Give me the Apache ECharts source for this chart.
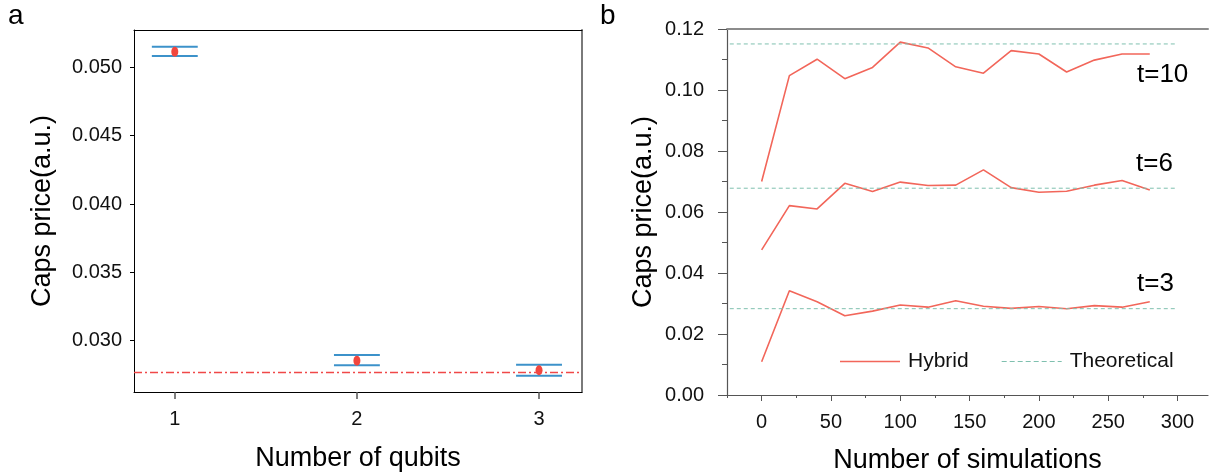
<!DOCTYPE html>
<html>
<head>
<meta charset="utf-8">
<script src="https://cdn.jsdelivr.net/npm/echarts@6/dist/echarts.min.js"></script>
<style>
html, body { margin: 0; padding: 0; background: #fff; }
#main { width: 1209px; height: 472px; }
</style>
</head>
<body>
<div id="main"></div>
<script>
// panel a: caps price vs number of qubits
const qubits = [1, 2, 3];
const qubitMean = [0.05115, 0.02853, 0.02783];
const qubitLow = [0.05084, 0.02819, 0.02743];
const qubitHigh = [0.05152, 0.02895, 0.02823];
const qubitTheory = 0.02765;
const qubitTicks = [0.030, 0.035, 0.040, 0.045, 0.050];

// panel b: caps price vs number of simulations
const simulations = [0, 20, 40, 60, 80, 100, 120, 140, 160, 180, 200, 220, 240, 260, 280];
const hybridT10 = [0.0700, 0.1047, 0.1101, 0.1037, 0.1074, 0.1157, 0.1138, 0.1076, 0.1055, 0.1129, 0.1118, 0.1059, 0.1098, 0.1118, 0.1118];
const hybridT6 = [0.0476, 0.0621, 0.0610, 0.0694, 0.0667, 0.0698, 0.0687, 0.0688, 0.0738, 0.0680, 0.0665, 0.0668, 0.0688, 0.0703, 0.0672];
const hybridT3 = [0.0109, 0.0342, 0.0306, 0.0260, 0.0275, 0.0295, 0.0288, 0.0309, 0.0291, 0.0284, 0.0290, 0.0283, 0.0293, 0.0288, 0.0306];
const theoryT10 = 0.1151;
const theoryT6 = 0.0678;
const theoryT3 = 0.0283;
const theoryRange = [-23, 300];
const simLabels = [0, 50, 100, 150, 200, 250, 300];
const simMinorTicks = [-25, 25, 75, 125, 175, 225, 275];

const FONT = 'Liberation Sans, Arial, sans-serif';
const hybridColor = '#F2665A';
const theoryColor = '#7FC0AF';
const dashIcon = 'path://M0,0h5v1h-5z M8,0h5v1h-5z M16,0h5v1h-5z M24,0h5v1h-5z M32,0h5v1h-5z M40,0h5v1h-5z M48,0h5v1h-5z M56,0h4v1h-4z';

let myChart = echarts.init(document.getElementById('main'));

function hybrid(vals) {
    return {
        name: 'Hybrid', type: 'line', xAxisIndex: 2, yAxisIndex: 2,
        showSymbol: false, symbol: 'none',
        lineStyle: { color: hybridColor, width: 1.6 },
        itemStyle: { color: hybridColor },
        data: simulations.map((s, i) => [s, vals[i]])
    };
}
function theory(v) {
    return {
        name: 'Theoretical', type: 'line', xAxisIndex: 2, yAxisIndex: 2,
        showSymbol: false, symbol: 'none',
        lineStyle: { color: theoryColor, width: 1, type: [4, 3] },
        itemStyle: { color: theoryColor },
        data: theoryRange.map(x => [x, v])
    };
}

myChart.setOption({
    animation: false,
    textStyle: { fontFamily: FONT },
    grid: [
        { left: 134, top: 30, width: 448, height: 362, outerBoundsMode: 'none', containLabel: false },
        { left: 727, top: 29, right: 1, bottom: 77, outerBoundsMode: 'none', containLabel: false }
    ],
    xAxis: [
        {
            gridIndex: 0, type: 'value', min: 0.776, max: 3.236,
            splitLine: { show: false },
            axisLine: { onZero: false, lineStyle: { color: '#000', width: 1 } },
            axisTick: { customValues: qubits, length: 7, lineStyle: { color: '#555', width: 1.5 } },
            axisLabel: { customValues: qubits, fontSize: 20, color: '#111', margin: 17, fontFamily: FONT },
            name: 'Number of qubits', nameLocation: 'middle', nameGap: 53,
            nameTextStyle: { fontSize: 27, color: '#000', fontFamily: FONT }
        },
        {
            gridIndex: 0, type: 'value', position: 'top', min: 0, max: 1,
            splitLine: { show: false }, axisTick: { show: false }, axisLabel: { show: false },
            axisLine: { onZero: false, lineStyle: { color: '#000', width: 1 } }
        },
        {
            gridIndex: 1, type: 'value', min: -25, max: 322,
            splitLine: { show: false },
            axisLine: { onZero: false, lineStyle: { color: '#555', width: 1.2 } },
            axisTick: { customValues: simLabels, length: 6, lineStyle: { color: '#555' } },
            axisLabel: { customValues: simLabels, fontSize: 20, color: '#111', margin: 17, fontFamily: FONT },
            name: 'Number of simulations', nameLocation: 'middle', nameGap: 52,
            nameTextStyle: { fontSize: 27, color: '#000', fontFamily: FONT }
        },
        {
            gridIndex: 1, type: 'value', position: 'top', min: 0, max: 1,
            splitLine: { show: false }, axisTick: { show: false }, axisLabel: { show: false },
            axisLine: { onZero: false, lineStyle: { color: '#8c8c8c', width: 2 } }
        },
        {
            gridIndex: 1, type: 'value', position: 'bottom', min: -25, max: 322,
            splitLine: { show: false }, axisLine: { show: false, onZero: false }, axisLabel: { show: false },
            axisTick: { customValues: simMinorTicks, length: 3, lineStyle: { color: '#555' } }
        }
    ],
    yAxis: [
        {
            gridIndex: 0, type: 'value', min: 0.02624, max: 0.05274,
            splitLine: { show: false },
            axisLine: { show: true, onZero: false, lineStyle: { color: '#000', width: 1 } },
            axisTick: { show: true, customValues: qubitTicks, length: 4, lineStyle: { color: '#000' } },
            axisLabel: {
                customValues: qubitTicks, fontSize: 20, color: '#111', margin: 12, fontFamily: FONT,
                formatter: v => v.toFixed(3)
            },
            name: 'Caps price(a.u.)', nameLocation: 'middle', nameGap: 78,
            nameTextStyle: { fontSize: 27, color: '#000', fontFamily: FONT }
        },
        {
            gridIndex: 0, type: 'value', position: 'right', min: 0, max: 1,
            splitLine: { show: false }, axisTick: { show: false }, axisLabel: { show: false },
            axisLine: { show: true, onZero: false, lineStyle: { color: '#7a7a7a', width: 2 } }
        },
        {
            gridIndex: 1, type: 'value', min: 0, max: 0.12, interval: 0.02,
            splitLine: { show: false },
            axisLine: { show: true, onZero: false, lineStyle: { color: '#555', width: 1.2 } },
            axisTick: { show: true, length: 9, lineStyle: { color: '#555' } },
            minorTick: { show: true, splitNumber: 2, length: 5, lineStyle: { color: '#555' } },
            axisLabel: { fontSize: 20, color: '#111', margin: 23, fontFamily: FONT, formatter: v => v.toFixed(2) },
            name: 'Caps price(a.u.)', nameLocation: 'middle', nameGap: 70,
            nameTextStyle: { fontSize: 27, color: '#000', fontFamily: FONT }
        }
    ],
    legend: {
        data: [
            { name: 'Hybrid', icon: 'rect' },
            { name: 'Theoretical', icon: dashIcon }
        ],
        left: 835, top: 346,
        itemWidth: 60, itemHeight: 1.5, itemGap: 33,
        textStyle: { fontSize: 21, color: '#111', fontFamily: FONT, padding: [0, 0, 0, 3] }
    },
    graphic: [
        { type: 'text', left: 8, top: 2, style: { text: 'a', fontSize: 28, fontFamily: FONT, fill: '#000' } },
        { type: 'text', left: 600, top: 2, style: { text: 'b', fontSize: 28, fontFamily: FONT, fill: '#000' } },
        { type: 'text', left: 1137, top: 62, style: { text: 't=10', fontSize: 26, fontFamily: FONT, fill: '#000' } },
        { type: 'text', left: 1136, top: 151, style: { text: 't=6', fontSize: 26, fontFamily: FONT, fill: '#000' } },
        { type: 'text', left: 1137, top: 271, style: { text: 't=3', fontSize: 26, fontFamily: FONT, fill: '#000' } }
    ],
    series: [
        {
            type: 'custom', xAxisIndex: 0, yAxisIndex: 0,
            data: qubits.map((q, i) => [q, qubitLow[i], qubitHigh[i]]),
            renderItem: function (params, api) {
                const x = api.value(0);
                const lo = api.coord([x, api.value(1)]);
                const hi = api.coord([x, api.value(2)]);
                const half = api.size([0.126, 0])[0];
                const style = { stroke: '#3C92CA', lineWidth: 2 };
                return {
                    type: 'group',
                    children: [
                        { type: 'line', shape: { x1: lo[0], y1: lo[1], x2: hi[0], y2: hi[1] }, style: { stroke: '#3C92CA', lineWidth: 1 } },
                        { type: 'line', shape: { x1: lo[0] - half, y1: lo[1], x2: lo[0] + half, y2: lo[1] }, style: style },
                        { type: 'line', shape: { x1: hi[0] - half, y1: hi[1], x2: hi[0] + half, y2: hi[1] }, style: style }
                    ]
                };
            }
        },
        {
            type: 'scatter', xAxisIndex: 0, yAxisIndex: 0,
            symbol: 'circle', symbolSize: [7, 10],
            itemStyle: { color: '#F2463D', opacity: 1 },
            data: qubits.map((q, i) => [q, qubitMean[i]]),
            markLine: {
                symbol: 'none', silent: true, precision: 6, label: { show: false },
                lineStyle: { color: '#F04848', width: 1.3, type: [8, 3, 2, 3] },
                data: [{ yAxis: qubitTheory }]
            }
        },
        hybrid(hybridT10),
        hybrid(hybridT6),
        hybrid(hybridT3),
        theory(theoryT10),
        theory(theoryT6),
        theory(theoryT3)
    ]
});
window.onresize = function () {
    myChart.resize();
};
</script>
</body>
</html>
